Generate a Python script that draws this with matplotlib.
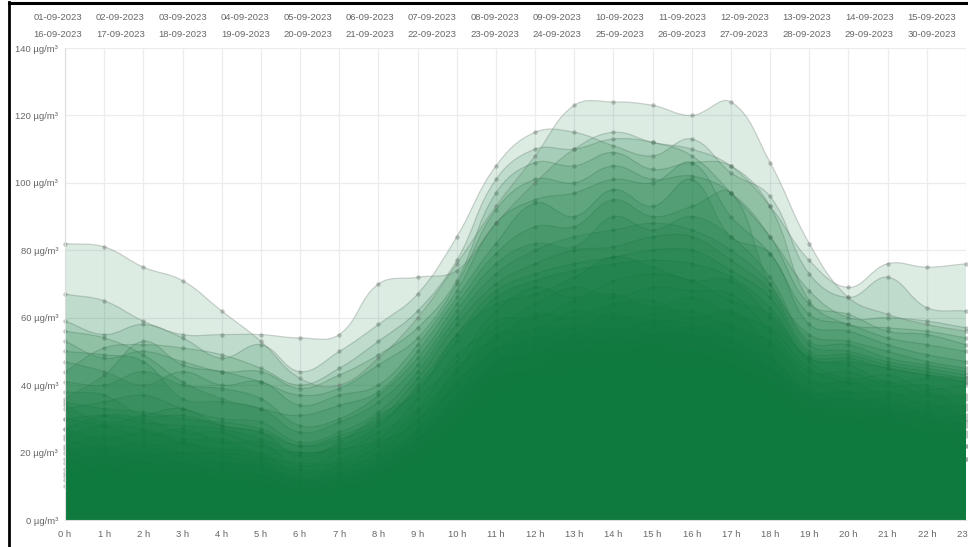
import numpy as np
import matplotlib
matplotlib.use("Agg")
import matplotlib.pyplot as plt
from matplotlib.path import Path
from matplotlib.patches import PathPatch
from matplotlib.lines import Line2D

plt.rcParams['font.family'] = ['Liberation Sans', 'DejaVu Sans']

# --- data -------------------------------------------------------------
hours = list(range(24))
hour_labels = [f"{h} h" for h in hours]
dates = [f"{d:02d}-09-2023" for d in range(1, 31)]
y_ticks = [0, 20, 40, 60, 80, 100, 120, 140]

d01 = [82, 81, 75, 71, 62, 53, 42, 40, 48, 60, 76, 93, 108, 123, 124, 123, 120, 124, 106, 82, 66, 61, 58, 56]
d02 = [67, 65, 59, 55, 55, 55, 54, 55, 70, 72, 74, 88, 100, 110, 115, 112, 110, 105, 93, 77, 69, 76, 75, 76]
d03 = [59, 55, 58, 54, 48, 52, 44, 50, 58, 67, 84, 105, 115, 115, 111, 108, 113, 103, 96, 73, 66, 72, 63, 62]
d04 = [44, 51, 52, 51, 49, 45, 40, 45, 53, 62, 77, 101, 110, 110, 113, 112, 108, 97, 84, 68, 60, 60, 59, 57]
d05 = [53, 48, 50, 47, 44, 44, 39, 43, 49, 57, 71, 97, 106, 105, 109, 104, 106, 105, 93, 65, 58, 57, 56, 54]
d06 = [36, 43, 53, 46, 44, 41, 37, 39, 46, 54, 70, 92, 101, 100, 105, 101, 102, 97, 84, 64, 61, 56, 55, 52]
d07 = [47, 44, 40, 44, 40, 41, 34, 37, 40, 52, 68, 88, 95, 97, 101, 100, 106, 90, 79, 61, 58, 54, 52, 50]
d08 = [56, 54, 49, 41, 36, 33, 31, 34, 38, 50, 66, 82, 94, 90, 98, 93, 101, 84, 79, 58, 56, 52, 49, 47]
d09 = [41, 40, 44, 40, 39, 36, 28, 30, 37, 48, 64, 79, 87, 87, 95, 90, 93, 97, 70, 55, 53, 50, 47, 45]
d10 = [50, 49, 47, 36, 35, 33, 26, 29, 35, 46, 62, 76, 82, 81, 90, 86, 90, 84, 72, 53, 52, 48, 46, 44]
d11 = [33, 35, 37, 33, 30, 29, 23, 26, 32, 44, 60, 73, 80, 84, 86, 88, 86, 80, 70, 52, 50, 47, 45, 43]
d12 = [38, 37, 31, 31, 28, 26, 22, 25, 30, 42, 58, 70, 76, 80, 81, 84, 84, 77, 68, 50, 49, 46, 44, 42]
d13 = [30, 31, 29, 28, 27, 24, 20, 22, 28, 40, 55, 68, 73, 76, 78, 80, 80, 74, 66, 49, 48, 45, 43, 41]
d14 = [35, 33, 32, 30, 29, 27, 22, 24, 29, 39, 53, 66, 71, 74, 76, 77, 76, 72, 63, 48, 47, 45, 43, 42]
d15 = [34, 29, 31, 33, 28, 26, 19, 23, 31, 38, 55, 64, 67, 72, 78, 75, 71, 71, 60, 48, 46, 41, 42, 41]
d16 = [27, 31, 30, 26, 26, 22, 20, 21, 24, 36, 47, 62, 69, 66, 71, 73, 71, 65, 61, 47, 42, 43, 39, 40]
d17 = [30, 28, 25, 27, 23, 23, 16, 20, 26, 33, 49, 57, 64, 69, 66, 69, 68, 67, 56, 44, 44, 40, 40, 36]
d18 = [25, 28, 27, 24, 24, 19, 17, 17, 22, 32, 44, 59, 60, 65, 67, 63, 66, 61, 57, 45, 41, 41, 37, 37]
d19 = [27, 24, 26, 23, 21, 20, 14, 18, 23, 29, 45, 54, 61, 60, 64, 65, 60, 62, 52, 41, 41, 37, 38, 33]
d20 = [22, 25, 22, 23, 19, 17, 15, 15, 20, 30, 40, 55, 56, 62, 60, 61, 62, 57, 53, 42, 38, 38, 34, 34]
d21 = [24, 21, 23, 20, 20, 18, 12, 16, 19, 27, 41, 50, 57, 57, 61, 58, 57, 58, 49, 38, 38, 34, 35, 30]
d22 = [20, 22, 19, 20, 17, 15, 13, 13, 18, 26, 37, 51, 52, 58, 56, 59, 58, 53, 48, 39, 35, 36, 31, 31]
d23 = [21, 18, 20, 17, 17, 16, 11, 14, 16, 24, 36, 47, 54, 53, 57, 55, 54, 54, 45, 36, 36, 32, 32, 28]
d24 = [17, 19, 17, 17, 14, 13, 12, 11, 17, 24, 33, 47, 49, 55, 52, 55, 55, 50, 45, 37, 33, 33, 29, 29]
d25 = [18, 15, 17, 14, 15, 13, 9, 12, 14, 21, 33, 43, 50, 49, 54, 51, 50, 50, 41, 33, 33, 29, 30, 25]
d26 = [14, 16, 14, 15, 12, 11, 10, 9, 14, 21, 29, 42, 45, 51, 49, 52, 50, 46, 41, 34, 30, 30, 26, 26]
d27 = [15, 13, 14, 12, 12, 11, 7, 10, 12, 18, 29, 37, 44, 45, 48, 47, 45, 45, 37, 30, 30, 26, 26, 22]
d28 = [12, 14, 12, 12, 10, 9, 8, 8, 12, 18, 25, 36, 39, 44, 43, 45, 44, 40, 37, 30, 26, 26, 22, 22]
d29 = [13, 11, 12, 10, 10, 9, 6, 8, 10, 15, 25, 31, 38, 39, 42, 40, 39, 39, 32, 26, 26, 22, 22, 18]
d30 = [10, 11, 9, 10, 8, 8, 7, 6, 10, 16, 21, 31, 33, 38, 37, 39, 38, 34, 31, 26, 22, 22, 18, 18]

series = [d01, d02, d03, d04, d05, d06, d07, d08, d09, d10,
          d11, d12, d13, d14, d15, d16, d17, d18, d19, d20,
          d21, d22, d23, d24, d25, d26, d27, d28, d29, d30]

# --- figure -------------------------------------------------------------
W, H = 968, 547
fig = plt.figure(figsize=(W / 100, H / 100), dpi=100)
ax = fig.add_axes([65 / W, 1 - 520 / H, (966 - 65) / W, (520 - 48) / H])
ax.set_xlim(0, 23)
ax.set_ylim(0, 140)

GREEN = (0.06, 0.48, 0.245)
EDGE = (0.4, 0.45, 0.42)


def spline(xs, ys, tension=0.4):
    # chart.js style bezier control points, computed in pixel space
    pts = ax.transData.transform(np.column_stack([xs, ys]))
    n = len(pts)
    cps = []
    for i in range(n):
        p0 = pts[i - 1] if i > 0 else pts[i]
        p1 = pts[i]
        p2 = pts[i + 1] if i < n - 1 else pts[i]
        d01 = np.hypot(*(p1 - p0))
        d12 = np.hypot(*(p2 - p1))
        tot = d01 + d12
        s01 = d01 / tot if tot else 0
        s12 = d12 / tot if tot else 0
        cps.append((p1 - tension * s01 * (p2 - p0), p1 + tension * s12 * (p2 - p0)))
    verts = [pts[0]]
    for i in range(1, n):
        verts += [cps[i - 1][1], cps[i][0], pts[i]]
    verts = ax.transData.inverted().transform(np.array(verts))
    verts[:, 1] = np.clip(verts[:, 1], 0, 140)
    codes = [Path.MOVETO] + [Path.CURVE4] * (3 * (n - 1))
    return verts, codes


# like chart.js: last dataset drawn first, each fill covers earlier lines
z = 2.0
for s in reversed(series):
    verts, codes = spline(hours, s)
    fill_verts = np.vstack([[hours[0], 0], verts, [hours[-1], 0], [hours[0], 0]])
    fill_codes = [Path.MOVETO, Path.LINETO] + codes[1:] + [Path.LINETO, Path.CLOSEPOLY]
    ax.add_patch(PathPatch(Path(fill_verts, fill_codes), facecolor=GREEN + (0.14,),
                           edgecolor='none', zorder=z))
    ax.add_patch(PathPatch(Path(verts, codes), facecolor='none',
                           edgecolor=EDGE + (0.3,), lw=0.9, zorder=z + 0.001))
    ax.plot(hours, s, 'o', ms=3.2, color=EDGE + (0.4,), mew=0, zorder=z + 0.002,
            clip_on=False)
    z += 0.01

# axes styling
ax.set_xticks(hours)
ax.set_xticklabels(hour_labels)
ax.set_yticks(y_ticks)
ax.set_yticklabels([f"{v} µg/m³" for v in y_ticks])
ax.tick_params(length=0, labelsize=6.8, labelcolor='#666666')
ax.tick_params(axis='x', pad=7)
ax.tick_params(axis='y', pad=5)
ax.grid(True, color='#ececec', lw=0.9, zorder=0)
ax.set_axisbelow(True)
for side in ['top', 'right']:
    ax.spines[side].set_visible(False)
ax.spines['left'].set_color('#dddddd')
ax.spines['bottom'].set_color('#dddddd')

# legend: two rows of date labels
for i, lab in enumerate(dates):
    row, col = divmod(i, 15)
    fig.text((58 + 62.4 * col) / W, 1 - (17 + 17.5 * row) / H, lab,
             ha='center', va='center', fontsize=6.8, color='#666666')

# screenshot frame
fig.add_artist(Line2D([9 / W, 9 / W], [0, 1 - 2 / H], color='black', lw=2))
fig.add_artist(Line2D([9 / W, 1], [1 - 2.5 / H, 1 - 2.5 / H], color='black', lw=2.2))

fig.savefig('out.png', dpi=100)
